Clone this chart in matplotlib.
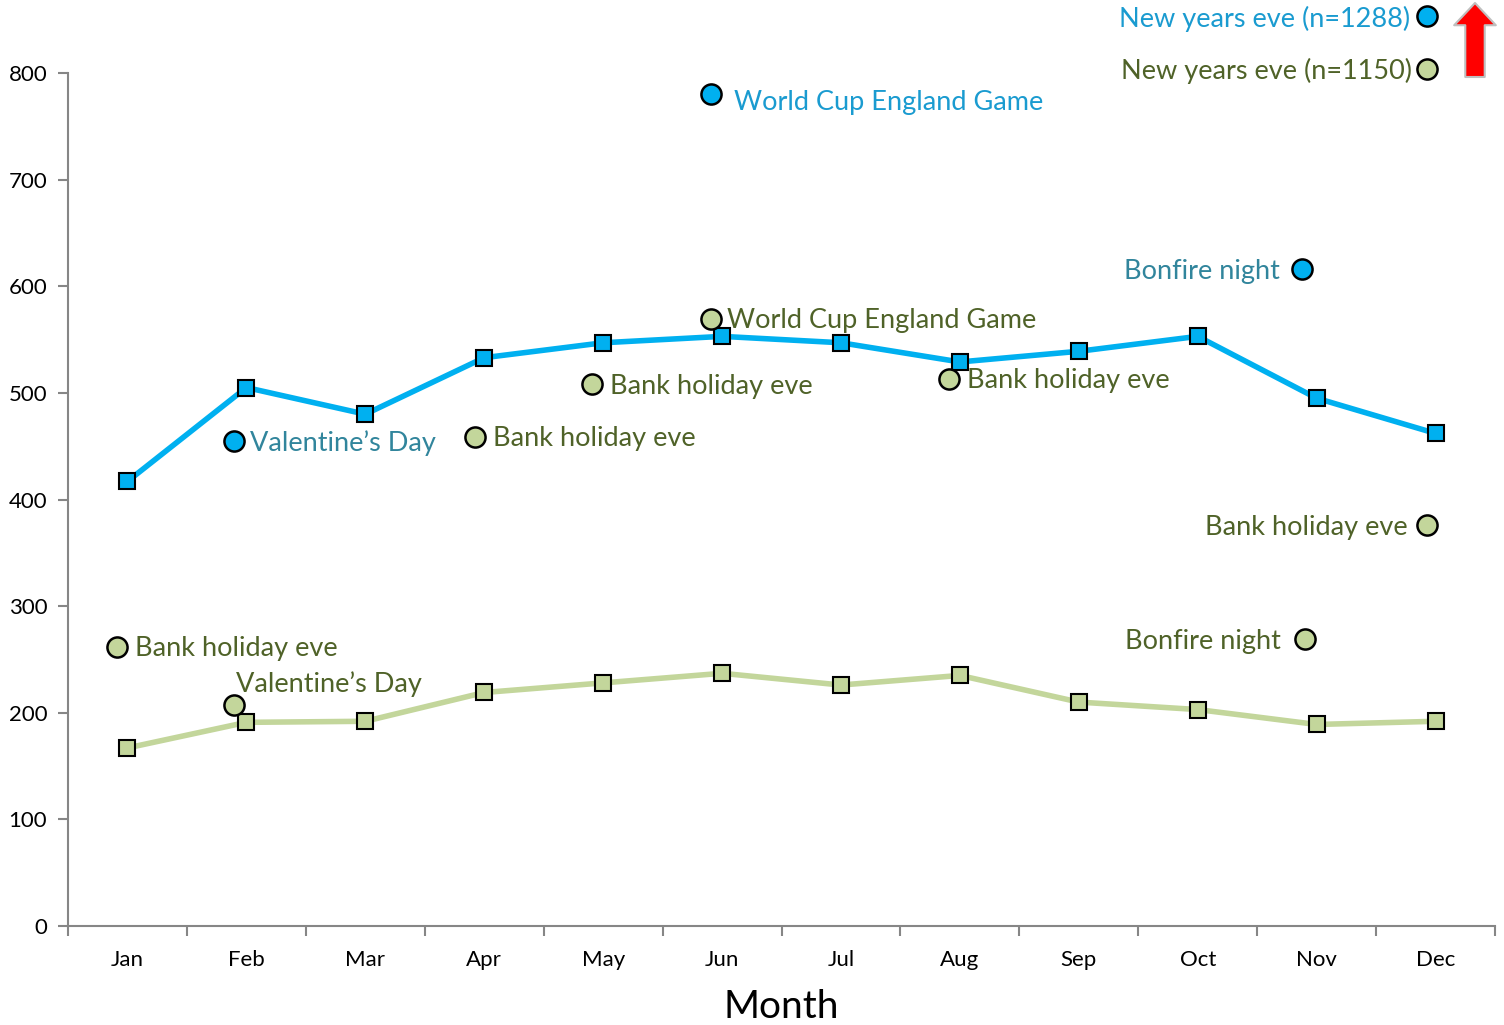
import matplotlib
matplotlib.use("Agg")
import matplotlib.pyplot as plt
import numpy as np

plt.rcParams['font.family'] = ['Lato', 'DejaVu Sans']

months = ['Jan', 'Feb', 'Mar', 'Apr', 'May', 'Jun', 'Jul', 'Aug', 'Sep', 'Oct', 'Nov', 'Dec']
blue_vals = [417, 505, 480, 533, 547, 553, 547, 529, 539, 553, 495, 462]
green_vals = [167, 191, 192, 219, 228, 237, 226, 235, 210, 203, 189, 192]

# special days (x = position in month units, y = value as plotted)
blue_labels = ["Valentine\u2019s Day", "World Cup England Game", "Bonfire night", "New years eve (n=1288)"]
blue_x = [0.90, 4.91, 9.88, 10.93]
blue_y = [455, 780, 616, 853]

green_labels = ["Bank holiday eve", "Valentine\u2019s Day", "Bank holiday eve", "Bank holiday eve",
                "World Cup England Game", "Bank holiday eve", "Bonfire night", "Bank holiday eve",
                "New years eve (n=1150)"]
green_x = [-0.09, 0.90, 2.92, 3.91, 4.91, 6.91, 9.90, 10.93, 10.93]
green_y = [262, 207, 459, 508, 569, 513, 269, 376, 804]

# label offsets in points (dx, dy, ha)
blue_off = [(11, -1.5, 'left'), (16, -6, 'left'), (-16, -1.5, 'right'), (-12, -2, 'right')]
green_off = [(13, -1.5, 'left'), (1, 15, 'left'), (13, -1.5, 'left'), (13, -1.5, 'left'), (11, -1, 'left'),
             (13, -1, 'left'), (-17, -1.5, 'right'), (-14, -1.5, 'right'), (-11, -1.5, 'right')]
blue_txt_col = ['#31859C', '#1A9BD0', '#31859C', '#1A9BD0']
green_txt_col = '#4F6228'

BLUE = '#00B0F0'
GREEN = '#C3D69B'

fig = plt.figure(figsize=(15.04, 10.25), dpi=100)
ax = fig.add_axes([68/1504, 1-926/1025, (1495-68)/1504, (926-73)/1025])

x = np.arange(len(months))
ax.plot(x, blue_vals, color=BLUE, lw=4, marker='s', ms=12, mfc=BLUE, mec='black', mew=1.5, zorder=3)
ax.plot(x, green_vals, color=GREEN, lw=4, marker='s', ms=12, mfc=GREEN, mec='black', mew=1.5, zorder=3)

ax.scatter(blue_x, blue_y, s=210, c=BLUE, edgecolors='black', linewidths=1.8, zorder=4, clip_on=False)
ax.scatter(green_x, green_y, s=210, c=GREEN, edgecolors='black', linewidths=1.8, zorder=4, clip_on=False)

for lab, xx, yy, (dx, dy, ha), col in zip(blue_labels, blue_x, blue_y, blue_off, blue_txt_col):
    ax.annotate(lab, (xx, yy), xytext=(dx, dy), textcoords='offset points', ha=ha, va='center',
                fontsize=19.5, color=col, annotation_clip=False)
for lab, xx, yy, (dx, dy, ha) in zip(green_labels, green_x, green_y, green_off):
    ax.annotate(lab, (xx, yy), xytext=(dx, dy), textcoords='offset points', ha=ha, va='center',
                fontsize=19.5, color=green_txt_col, annotation_clip=False)

ax.set_xlim(-0.5, len(months) - 0.5)
ax.set_ylim(0, 800)
ax.set_yticks(range(0, 801, 100))
ax.set_xticks(np.arange(-0.5, len(months), 1.0))
ax.set_xticklabels([])
ax.set_xticks(x, minor=True)
ax.set_xticklabels(months, minor=True)
ax.tick_params(axis='x', which='minor', length=0, pad=17, labelsize=16)
ax.tick_params(axis='x', which='major', length=7, width=1.5, color='#868686', direction='out')
ax.tick_params(axis='y', length=7, width=1.5, color='#868686', labelsize=16, pad=8)

for s in ['top', 'right']:
    ax.spines[s].set_visible(False)
for s in ['left', 'bottom']:
    ax.spines[s].set_color('#868686')
    ax.spines[s].set_linewidth(1.5)

ax.set_xlabel('Month', fontsize=28, labelpad=14)

# red arrow: values are off the chart
ax.annotate('', xy=(1475, 1022), xytext=(1475, 948), xycoords='figure pixels', textcoords='figure pixels',
            arrowprops=dict(arrowstyle='simple,head_length=16,head_width=30,tail_width=14',
                            mutation_scale=1, fc='#FF0000', ec='#BFBFBF', lw=1.5, shrinkA=0, shrinkB=0))

fig.savefig('out.png', dpi=100)
